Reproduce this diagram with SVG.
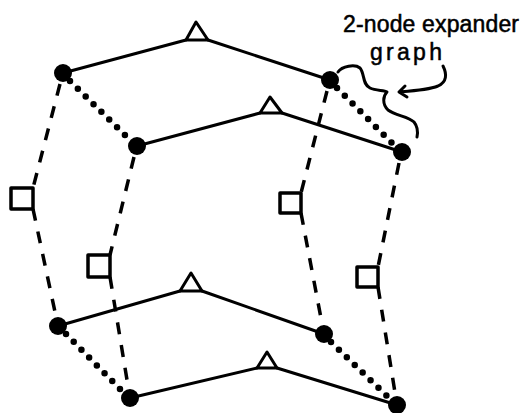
<svg xmlns="http://www.w3.org/2000/svg" width="523" height="413" viewBox="0 0 523 413">
<style>
.solid{fill:none;stroke:#000;stroke-width:3;stroke-linecap:round;stroke-linejoin:round}
.dash{fill:none;stroke:#000;stroke-width:3.5;stroke-dasharray:12 11;stroke-linecap:butt}
.dot{fill:none;stroke:#000;stroke-width:6.5;stroke-dasharray:0 11;stroke-linecap:round}
.node{fill:#000}
.tri{fill:#fff;stroke:#000;stroke-width:3;stroke-linejoin:round}
.sq{fill:#fff;stroke:#000;stroke-width:3.5;stroke-linejoin:round}
.lbl{font-family:"Liberation Sans",Arial,sans-serif;font-size:23px;fill:#000;stroke:#000;stroke-width:0.5}
</style>
<rect width="523" height="413" fill="#fff"/>
<g id="connectors">
  <path class="solid" d="M63,73 L186,40 M208,40 L330,80"/>
  <path class="solid" d="M137,146 L260,113 M282,113 L402,152"/>
  <path class="solid" d="M58,326 L180,291 M202,291 L324,334"/>
  <path class="solid" d="M130,398 L257,368 M277,368 L397,405"/>
  <path class="dot" d="M70,81 L130,140"/>
  <path class="dot" d="M337,88 L395,146"/>
  <path class="dot" d="M66,334 L123,392"/>
  <path class="dot" d="M331,342 L390,399"/>
  <path class="dash" d="M60,84 L33,188"/>
  <path class="dash" d="M33,209 L58,326"/>
  <path class="dash" d="M134,157 L110,255"/>
  <path class="dash" d="M110,277 L130,398"/>
  <path class="dash" d="M327,91 L301,193"/>
  <path class="dash" d="M301,213 L324,334"/>
  <path class="dash" d="M399,163 L378,267"/>
  <path class="dash" d="M378,287 L397,405"/>
  <path class="solid" d="M338,72 C342,66 355,64 360,68 C365,74 362,84 370,88 C376,91 384,90 387,92 C383,96 382,104 388,110 C396,116 408,116 414,122 C418,127 418,132 417,137"/>
  <path class="solid" d="M443,66 C447,74 447,82 438,86 C428,90 412,91 399,92 M405,86 L399,92 L407,97"/>
</g>
<g id="sqA"><rect class="sq" x="11" y="188" width="22" height="21"/></g>
<g id="sqB"><rect class="sq" x="88" y="255" width="22" height="22"/></g>
<g id="sqC"><rect class="sq" x="280" y="193" width="21" height="20"/></g>
<g id="sqD"><rect class="sq" x="357" y="267" width="21" height="20"/></g>
<g id="triTop"><polygon class="tri" points="196,22 186,40 208,40"/></g>
<g id="triSecond"><polygon class="tri" points="270,97 260,113 282,113"/></g>
<g id="triThird"><polygon class="tri" points="191,273 180,291 202,291"/></g>
<g id="triBottom"><polygon class="tri" points="267,352 257,368 277,368"/></g>
<g id="nA"><circle class="node" cx="63" cy="73" r="9"/></g>
<g id="nB"><circle class="node" cx="137" cy="146" r="9"/></g>
<g id="nC"><circle class="node" cx="330" cy="80" r="9"/></g>
<g id="nD"><circle class="node" cx="402" cy="152" r="9"/></g>
<g id="nE"><circle class="node" cx="58" cy="326" r="9"/></g>
<g id="nF"><circle class="node" cx="130" cy="398" r="9"/></g>
<g id="nG"><circle class="node" cx="324" cy="334" r="9"/></g>
<g id="nH"><circle class="node" cx="397" cy="405" r="9"/></g>
<g id="label">
  <text class="lbl" x="343" y="32" textLength="176" lengthAdjust="spacing">2-node expander</text>
  <text class="lbl" x="370" y="60" textLength="72" lengthAdjust="spacing">graph</text>
</g>
</svg>
